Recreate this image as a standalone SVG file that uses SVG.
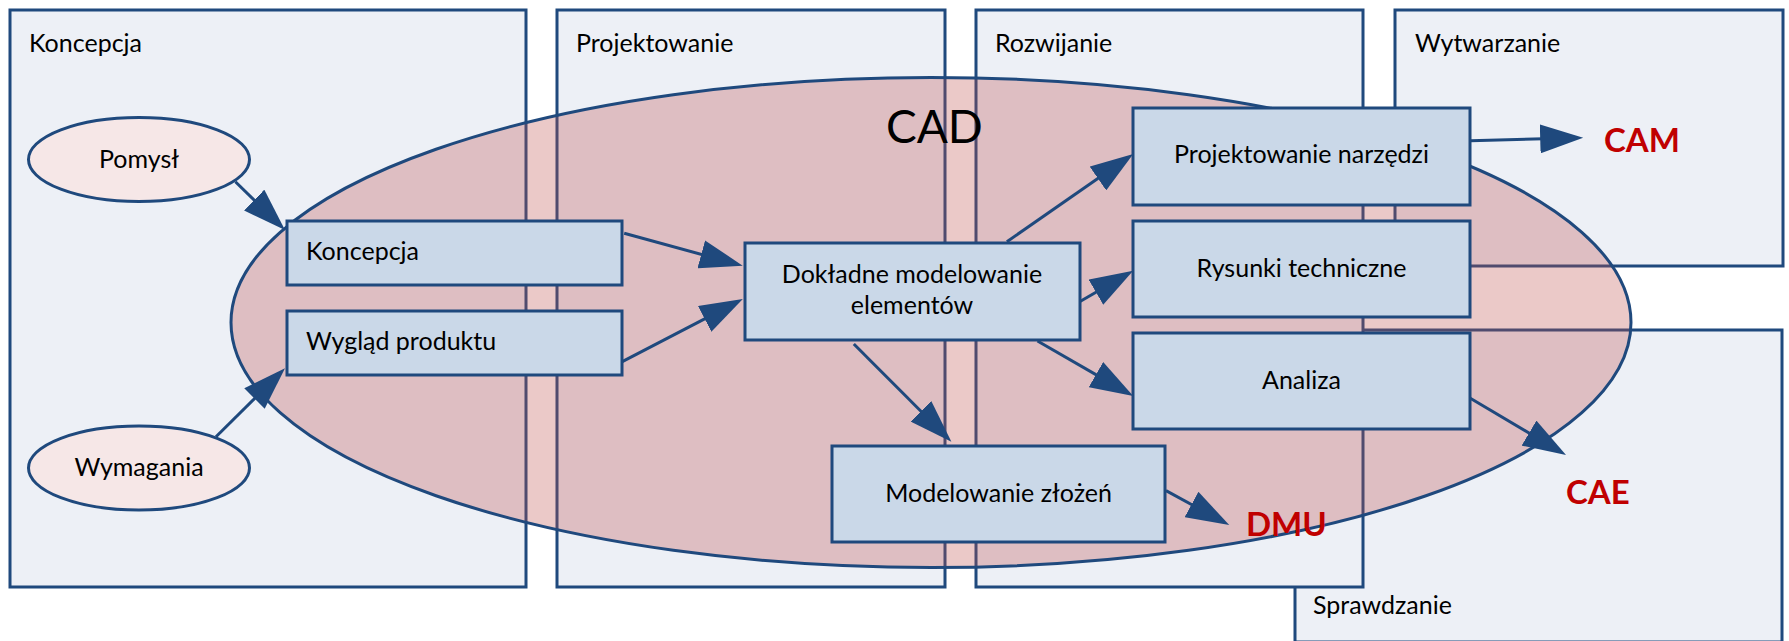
<svg xmlns="http://www.w3.org/2000/svg" width="1789" height="641" viewBox="0 0 1789 641">
<style>
.lane{fill:#EDF0F6;stroke:#1F497D;stroke-width:3}
.box{fill:#CAD8E8;stroke:#1F497D;stroke-width:3}
.oval{fill:#F6E7E7;stroke:#1F497D;stroke-width:3}
.cad{fill:#C0504D;fill-opacity:0.31;stroke:#1F497D;stroke-width:3}
text{font-family:Lato,"Liberation Sans",sans-serif;fill:#000}
.t{font-size:25px}
.c{text-anchor:middle}
.red{font-size:33px;font-weight:bold;fill:#C00000}
.big{font-size:46px}
.con line{stroke:#1F497D;stroke-width:3;marker-end:url(#ah)}
</style>
<defs>
<marker id="ah" markerUnits="userSpaceOnUse" markerWidth="43" markerHeight="29" refX="13" refY="14.5" orient="auto" viewBox="0 0 43 29">
<path d="M0,0 L43,14.5 L0,29 z" fill="#1F497D"/>
</marker>
</defs>
<rect width="1789" height="641" fill="#fff"/>
<g id="lane-sprawdzanie"><rect class="lane" x="1295" y="330" width="487" height="312"/><text class="t" x="1313" y="614">Sprawdzanie</text></g>
<g id="lane-koncepcja"><rect class="lane" x="10" y="10" width="516" height="577"/><text class="t" x="29" y="52">Koncepcja</text></g>
<g id="lane-projektowanie"><rect class="lane" x="557" y="10" width="388" height="577"/><text class="t" x="576" y="52">Projektowanie</text></g>
<g id="lane-rozwijanie"><rect class="lane" x="976" y="10" width="387" height="577"/><text class="t" x="995" y="52">Rozwijanie</text></g>
<g id="lane-wytwarzanie"><rect class="lane" x="1395" y="10" width="388" height="256"/><text class="t" x="1415" y="52">Wytwarzanie</text></g>
<g id="cad"><ellipse class="cad" cx="931" cy="322.5" rx="700" ry="245"/><text class="big" x="886" y="143">CAD</text></g>
<g id="connectors" class="con">
<line x1="235.4" y1="181.7" x2="263.5" y2="209.1"/>
<line x1="216" y1="436.7" x2="263.7" y2="389.4"/>
<line x1="624.2" y1="233.3" x2="713.8" y2="257.8"/>
<line x1="622.3" y1="361.7" x2="716.2" y2="312.9"/>
<line x1="1006.9" y1="241.7" x2="1108.6" y2="171.1"/>
<line x1="1079.6" y1="301.7" x2="1107.2" y2="285.7"/>
<line x1="1037.5" y1="341" x2="1107.2" y2="381.1"/>
<line x1="853.8" y1="344" x2="930.2" y2="420.5"/>
<line x1="1166" y1="490.6" x2="1202.9" y2="510.7"/>
<line x1="1470.3" y1="140.7" x2="1553.2" y2="138.5"/>
<line x1="1470.3" y1="398.3" x2="1540.2" y2="439.7"/>
</g>
<g id="pomysl"><ellipse class="oval" cx="139" cy="159.5" rx="110.5" ry="42"/><text class="t c" x="139" y="168">Pomysł</text></g>
<g id="wymagania"><ellipse class="oval" cx="139" cy="468" rx="110.5" ry="42"/><text class="t c" x="139" y="476">Wymagania</text></g>
<g id="koncepcja"><rect class="box" x="287" y="221" width="335" height="64"/><text class="t" x="306" y="260">Koncepcja</text></g>
<g id="wyglad"><rect class="box" x="287" y="311" width="335" height="64"/><text class="t" x="306" y="350">Wygląd produktu</text></g>
<g id="dokladne"><rect class="box" x="745" y="243" width="335" height="97"/><text class="t c" x="912" y="283">Dokładne modelowanie</text><text class="t c" x="912" y="314">elementów</text></g>
<g id="zlozenia"><rect class="box" x="832" y="446" width="333" height="96"/><text class="t c" x="998.5" y="502">Modelowanie złożeń</text></g>
<g id="narzedzia"><rect class="box" x="1133" y="108" width="337" height="97"/><text class="t c" x="1301.5" y="163">Projektowanie narzędzi</text></g>
<g id="rysunki"><rect class="box" x="1133" y="221" width="337" height="96"/><text class="t c" x="1301.5" y="277">Rysunki techniczne</text></g>
<g id="analiza"><rect class="box" x="1133" y="333" width="337" height="96"/><text class="t c" x="1301.5" y="389">Analiza</text></g>
<g id="cam"><text class="red" x="1604" y="152">CAM</text></g>
<g id="cae"><text class="red" x="1566" y="504">CAE</text></g>
<g id="dmu"><text class="red" x="1246" y="536">DMU</text></g>
</svg>
